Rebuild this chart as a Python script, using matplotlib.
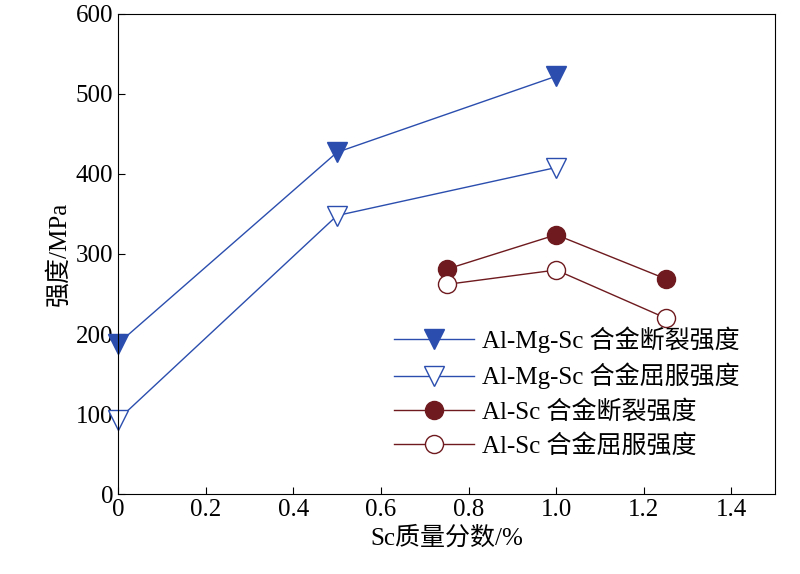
import matplotlib.pyplot as plt

plt.rcParams['font.family'] = ['Liberation Serif', 'Noto Sans CJK SC']
plt.rcParams['font.size'] = 17

mgsc_x = [0, 0.5, 1.0]
mgsc_fracture = [188, 427, 522]
mgsc_yield = [93, 348, 408]
sc_x = [0.75, 1.0, 1.25]
sc_fracture = [281, 324, 269]
sc_yield = [262, 280, 220]

blue = '#2b4eae'
red = '#6e1a1e'

fig = plt.figure(figsize=(8, 5.74), dpi=100)
ax = fig.add_axes([0.1475, 0.139, 0.8215, 0.837])

ax.plot(mgsc_x, mgsc_fracture, '-v', color=blue, lw=1, ms=15,
        mfc=blue, mec=blue, label='Al-Mg-Sc 合金断裂强度', clip_on=False)
ax.plot(mgsc_x, mgsc_yield, '-v', color=blue, lw=1, ms=15,
        mfc='white', mec=blue, label='Al-Mg-Sc 合金屈服强度', clip_on=False)
ax.plot(sc_x, sc_fracture, '-o', color=red, lw=1, ms=13,
        mfc=red, mec=red, label='Al-Sc 合金断裂强度')
ax.plot(sc_x, sc_yield, '-o', color=red, lw=1, ms=13,
        mfc='white', mec=red, label='Al-Sc 合金屈服强度')

ax.set_xlim(0, 1.5)
ax.set_ylim(0, 600)
ax.set_xticks([0, 0.2, 0.4, 0.6, 0.8, 1.0, 1.2, 1.4])
ax.set_xticklabels(['0', '0.2', '0.4', '0.6', '0.8', '1.0', '1.2', '1.4'])
ax.set_yticks(range(0, 601, 100))
ax.tick_params(direction='in', length=5, labelsize=18)
ax.set_xlabel('Sc质量分数/%', fontsize=18)
ax.set_ylabel('强度/MPa', fontsize=18)

ax.legend(loc='lower right', bbox_to_anchor=(0.98, 0.03), frameon=False,
          handlelength=3.2, handletextpad=0.3, labelspacing=0.4, fontsize=18)

fig.savefig('out.png', dpi=100)
